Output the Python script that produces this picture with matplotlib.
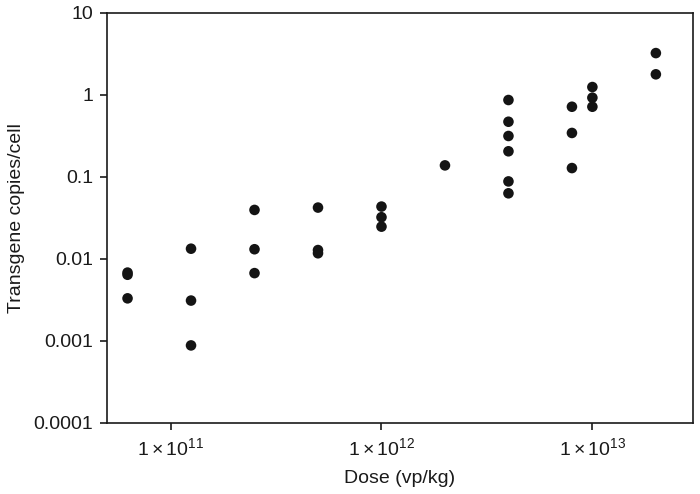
import numpy as np
import matplotlib
matplotlib.use("Agg")
from matplotlib import pyplot as plt
from matplotlib.ticker import FixedLocator, FuncFormatter, NullLocator

plt.rcParams['font.family'] = ['Liberation Sans', 'DejaVu Sans']
plt.rcParams['mathtext.fontset'] = 'custom'
plt.rcParams['mathtext.rm'] = 'Liberation Sans'
plt.rcParams['mathtext.it'] = 'Liberation Sans:italic'

# 剂量 (vp/kg) 与每组测得的转基因拷贝数
dose_groups = [6.25e10, 1.25e11, 2.5e11, 5e11, 1e12, 2e12, 4e12, 8e12, 1e13, 2e13]
copies = [
    [0.0068, 0.0064, 0.0033],
    [0.0133, 0.0031, 0.00088],
    [0.0395, 0.0131, 0.0067],
    [0.0422, 0.0128, 0.0117],
    [0.0434, 0.0322, 0.0247],
    [0.138],
    [0.865, 0.47, 0.315, 0.205, 0.088, 0.063],
    [0.716, 0.343, 0.128],
    [1.245, 0.923, 0.716],
    [3.23, 1.78],
]

y_ticks = [0.0001, 0.001, 0.01, 0.1, 1, 10]
y_tick_labels = ['0.0001', '0.001', '0.01', '0.1', '1', '10']
x_ticks = [1e11, 1e12, 1e13]

x = []
y = []
for d, vals in zip(dose_groups, copies):
    for v in vals:
        x.append(d)
        y.append(v)

fig = plt.figure(figsize=(7, 4.94), dpi=100)
ax = fig.add_axes([0.153, 0.144, 0.837, 0.830])

ax.scatter(x, y, s=58, c='#141414', edgecolors='none', zorder=3, clip_on=False)

ax.set_xscale('log')
ax.set_yscale('log')
ax.set_xlim(5e10, 3e13)
ax.set_ylim(1e-4, 10)

ax.xaxis.set_major_locator(FixedLocator(x_ticks))
ax.xaxis.set_minor_locator(NullLocator())
ax.xaxis.set_major_formatter(FuncFormatter(
    lambda v, p: r'$1\times10^{%d}$' % round(np.log10(v))))
ax.yaxis.set_major_locator(FixedLocator(y_ticks))
ax.yaxis.set_minor_locator(NullLocator())
ax.set_yticklabels(y_tick_labels)

for s in ax.spines.values():
    s.set_linewidth(1.2)
    s.set_color('#1a1a1a')
ax.tick_params(axis='both', which='major', direction='out', length=5,
               width=1.2, color='#1a1a1a', labelsize=14, pad=5,
               labelcolor='#1a1a1a')

ax.set_xlabel('Dose (vp/kg)', fontsize=14, color='#1a1a1a', labelpad=8)
ax.set_ylabel('Transgene copies/cell', fontsize=14, color='#1a1a1a', labelpad=6)

fig.savefig('out.png', dpi=100)
